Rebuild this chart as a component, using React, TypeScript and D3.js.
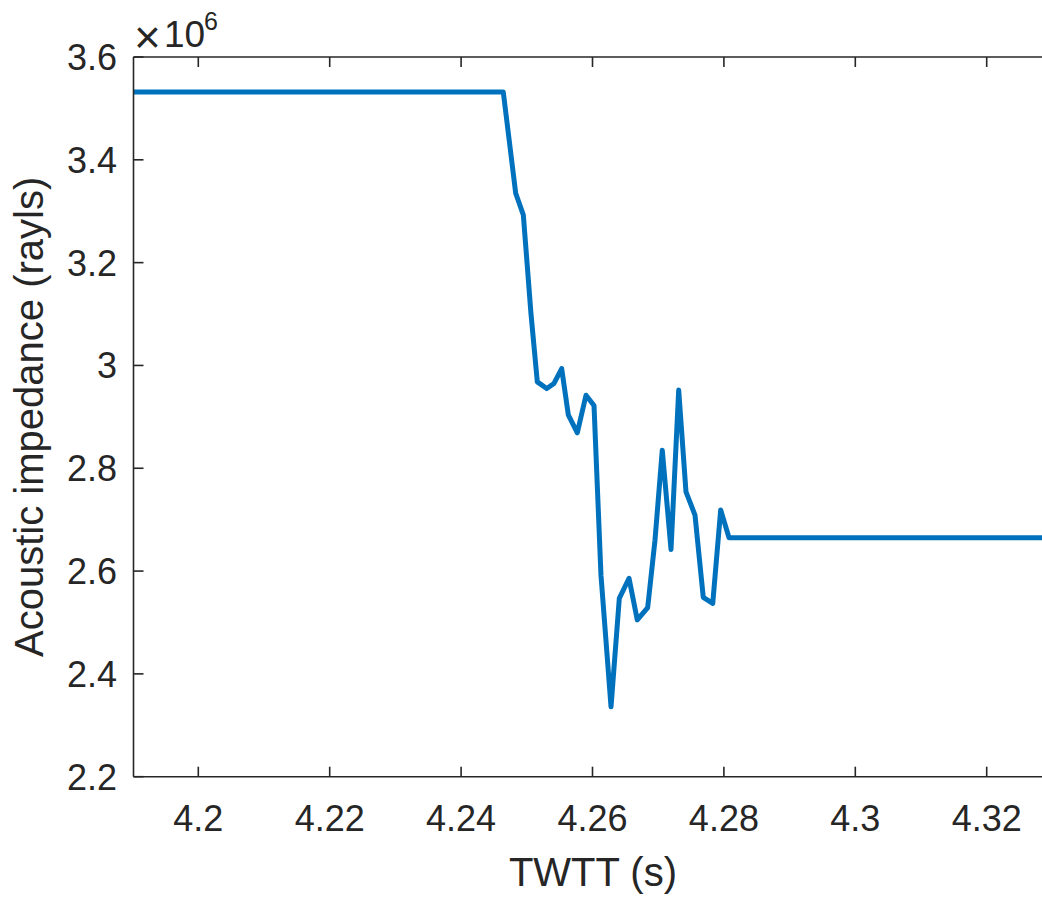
import React from "react";
import * as d3 from "d3";

// Two-way travel time (s) and acoustic impedance (×10^6 rayls)
const twtt: number[] = [
  4.185, 4.24642, 4.24831, 4.24947, 4.25064, 4.2516, 4.25303, 4.25414, 4.25531,
  4.25632, 4.25769, 4.25901, 4.26023, 4.26129, 4.26282, 4.26408, 4.26556,
  4.26682, 4.2684, 4.26951, 4.27062, 4.27195, 4.27312, 4.27423, 4.2756,
  4.27686, 4.2783, 4.27951, 4.28078, 4.335,
];
const impedance: number[] = [
  3.532, 3.532, 3.335, 3.293, 3.1, 2.968, 2.955, 2.965, 2.994,
  2.904, 2.869, 2.942, 2.922, 2.592, 2.336, 2.547, 2.586,
  2.505, 2.529, 2.66, 2.835, 2.642, 2.952, 2.754, 2.709,
  2.549, 2.537, 2.719, 2.665, 2.665,
];
const xTicks: number[] = [4.2, 4.22, 4.24, 4.26, 4.28, 4.3, 4.32];
const yTicks: number[] = [2.2, 2.4, 2.6, 2.8, 3, 3.2, 3.4, 3.6];

const W = 1042;
const H = 898;
const left = 133.5;
const top = 57;
const bottom = 776.7;
const axisColor = "#262626";
const font = "'Liberation Sans', Arial, Helvetica, sans-serif";

export default function App() {
  const x = d3.scaleLinear().domain([4.2, 4.32]).range([198.3, 986.7]);
  const right = x(4.33);
  const y = d3.scaleLinear().domain([2.2, 3.6]).range([bottom, top]);
  const pts: [number, number][] = twtt.map((t, i) => [t, impedance[i]]);
  const line = d3
    .line<[number, number]>()
    .x((d) => x(d[0]))
    .y((d) => y(d[1]));
  const tickLen = 10;

  return (
    <svg
      width={W}
      height={H}
      style={{ position: "absolute", left: 0, top: 0, background: "#fff" }}
    >
      <defs>
        <clipPath id="plotClip">
          <rect x={left} y={top} width={right - left} height={bottom - top} />
        </clipPath>
      </defs>
      <rect x={0} y={0} width={W} height={H} fill="#fff" />
      <path
        d={line(pts) || ""}
        fill="none"
        stroke="#0072BD"
        strokeWidth={5}
        strokeLinejoin="round"
        clipPath="url(#plotClip)"
      />
      {/* axes box */}
      <g stroke={axisColor} strokeWidth={1.6} fill="none">
        <line x1={left} y1={bottom} x2={right} y2={bottom} />
        <line x1={left} y1={top} x2={right} y2={top} />
        <line x1={left} y1={top} x2={left} y2={bottom} />
        {xTicks.map((t) => (
          <g key={"xt" + t}>
            <line x1={x(t)} x2={x(t)} y1={bottom} y2={bottom - tickLen} />
            <line x1={x(t)} x2={x(t)} y1={top} y2={top + tickLen} />
          </g>
        ))}
        {yTicks.map((v) => (
          <line key={"yt" + v} x1={left} x2={left + tickLen} y1={y(v)} y2={y(v)} />
        ))}
      </g>
      <g fill={axisColor} fontFamily={font} fontSize={36}>
        {xTicks.map((t) => (
          <text key={"xl" + t} x={x(t)} y={831} textAnchor="middle">
            {d3.format("~g")(t)}
          </text>
        ))}
        {yTicks.map((v) => (
          <text key={"yl" + v} x={117} y={y(v) + 13} textAnchor="end">
            {d3.format("~g")(v)}
          </text>
        ))}
        {/* exponent label for the y axis */}
        <text x={134} y={53} fontSize={46} fontWeight={300}>
          ×
        </text>
        <text x={164} y={47} fontSize={37}>
          10
        </text>
        <text x={204} y={30} fontSize={25}>
          6
        </text>
        <text x={(left + right) / 2} y={886} textAnchor="middle" fontSize={40}>
          TWTT (s)
        </text>
        <text
          transform={`translate(43, ${(top + bottom) / 2}) rotate(-90)`}
          textAnchor="middle"
          fontSize={40}
        >
          Acoustic impedance (rayls)
        </text>
      </g>
    </svg>
  );
}
